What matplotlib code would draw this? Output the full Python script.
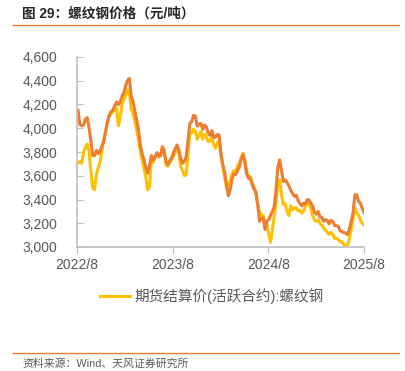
import matplotlib.pyplot as plt
import pandas as pd

plt.rcParams['font.family'] = ['Liberation Sans', 'Noto Sans CJK SC', 'DejaVu Sans']

# 周度数据（每周五）
week_start = '2022-08-05'

# 螺纹钢现货价（橙色线）
spot = [4150, 4032, 4021, 4026, 4074, 4090, 4007, 3892, 3769, 3769,
        3814, 3786, 3808, 3847, 3887, 3965, 4049, 4110, 4138, 4155,
        4188, 4222, 4199, 4222, 4269, 4300, 4361, 4403, 4420, 4272,
        4227, 4144, 4068, 3984, 3859, 3783, 3733, 3669, 3621, 3686,
        3770, 3733, 3756, 3795, 3767, 3767, 3845, 3795, 3717, 3694,
        3728, 3747, 3795, 3828, 3859, 3817, 3745, 3706, 3720, 3761,
        3901, 4041, 4055, 4110, 4102, 4018, 4035, 4041, 3990, 4027,
        4013, 3957, 3940, 3979, 3923, 3923, 3949, 3940, 3789, 3691,
        3630, 3524, 3431, 3482, 3574, 3616, 3610, 3644, 3672, 3739,
        3775, 3711, 3616, 3577, 3579, 3526, 3487, 3465, 3356, 3216,
        3244, 3244, 3147, 3216, 3230, 3264, 3300, 3336, 3482, 3672,
        3733, 3644, 3552, 3565, 3543, 3515, 3479, 3453, 3426, 3437,
        3392, 3367, 3347, 3367, 3364, 3398, 3398, 3370, 3345, 3294,
        3275, 3300, 3250, 3250, 3216, 3230, 3224, 3194, 3224, 3216,
        3180, 3180, 3174, 3135, 3130, 3121, 3118, 3104, 3152, 3216,
        3286, 3440, 3440, 3386, 3370, 3328, 3291]

# 期货结算价（活跃合约，黄色线）
futures = [3710, 3719, 3705, 3797, 3836, 3867, 3803, 3635, 3501, 3482,
           3607, 3669, 3713, 3808, 3901, 3979, 4049, 4102, 4124, 4138,
           4163, 4171, 4021, 4096, 4199, 4241, 4278, 4325, 4300, 4160,
           4124, 4060, 3984, 3901, 3803, 3733, 3663, 3585, 3482, 3510,
           3747, 3711, 3756, 3784, 3756, 3773, 3831, 3823, 3692, 3680,
           3711, 3733, 3764, 3798, 3831, 3789, 3678, 3644, 3602, 3608,
           3789, 3963, 3957, 3993, 3976, 3907, 3943, 3971, 3909, 3949,
           3929, 3887, 3895, 3929, 3859, 3831, 3879, 3901, 3761, 3677,
           3588, 3498, 3524, 3560, 3613, 3644, 3638, 3683, 3705, 3753,
           3789, 3733, 3635, 3585, 3593, 3540, 3504, 3454, 3370, 3292,
           3272, 3264, 3202, 3197, 3113, 3040, 3141, 3253, 3370, 3552,
           3565, 3440, 3356, 3364, 3300, 3264, 3347, 3314, 3328, 3331,
           3303, 3311, 3286, 3300, 3347, 3370, 3356, 3328, 3264, 3227,
           3216, 3227, 3197, 3183, 3160, 3141, 3121, 3107, 3124, 3107,
           3071, 3074, 3062, 3043, 3046, 3018, 3012, 3007, 3071, 3146,
           3230, 3328, 3291, 3269, 3230, 3202, 3183]

yticks = [3000, 3200, 3400, 3600, 3800, 4000, 4200, 4400, 4600]
xticks = ['2022-08-01', '2023-08-01', '2024-08-01', '2025-08-01']
xlabels = ['2022/8', '2023/8', '2024/8', '2025/8']

x = pd.date_range(week_start, periods=len(spot), freq='7D')
gray = '#595959'

fig = plt.figure(figsize=(4.06, 3.71), dpi=100)
ax = fig.add_axes([77 / 406, 1 - 247 / 371, 287 / 406, 190 / 371])

ax.plot(x, futures, color='#FFC000', lw=2.2, label='期货结算价(活跃合约):螺纹钢')
ax.plot(x, spot, color='#ED7D31', lw=2.2)

ax.set_ylim(3000, 4600)
ax.set_yticks(yticks)
ax.set_yticklabels([f'{v:,}' for v in yticks])
ax.set_xlim(pd.Timestamp('2022-08-01'), pd.Timestamp('2025-08-01'))
ax.set_xticks(pd.to_datetime(xticks))
ax.set_xticklabels(xlabels)

for s in ['top', 'right']:
    ax.spines[s].set_visible(False)
for s in ['left', 'bottom']:
    ax.spines[s].set_color('#BFBFBF')
    ax.spines[s].set_linewidth(1.2)
ax.tick_params(axis='y', direction='in', length=4, color='#BFBFBF', labelsize=10, labelcolor=gray, pad=14)
ax.tick_params(axis='x', direction='out', length=4, color='#BFBFBF', labelsize=10, labelcolor=gray, pad=4)

leg = fig.legend(loc='center', bbox_to_anchor=(212 / 406, 1 - 296 / 371), frameon=False,
                 fontsize=10.5, handlelength=2.1, handletextpad=0.3)
for t in leg.get_texts():
    t.set_color(gray)

# 标题与来源
fig.text(22 / 406, 1 - 14 / 371, '图 29：螺纹钢价格（元/吨）', fontsize=9.8, fontweight='bold',
         color='#262626', va='center', ha='left')
fig.add_artist(plt.Line2D([13 / 406, 399 / 406], [1 - 25 / 371, 1 - 25 / 371], color='#ED7D31', lw=1))
fig.add_artist(plt.Line2D([13 / 406, 399 / 406], [1 - 353 / 371, 1 - 353 / 371], color='#ED7D31', lw=1))
fig.text(22 / 406, 1 - 364 / 371, '资料来源：Wind、天风证券研究所', fontsize=7.8, color=gray,
         va='center', ha='left')

fig.savefig('out.png', dpi=100)
